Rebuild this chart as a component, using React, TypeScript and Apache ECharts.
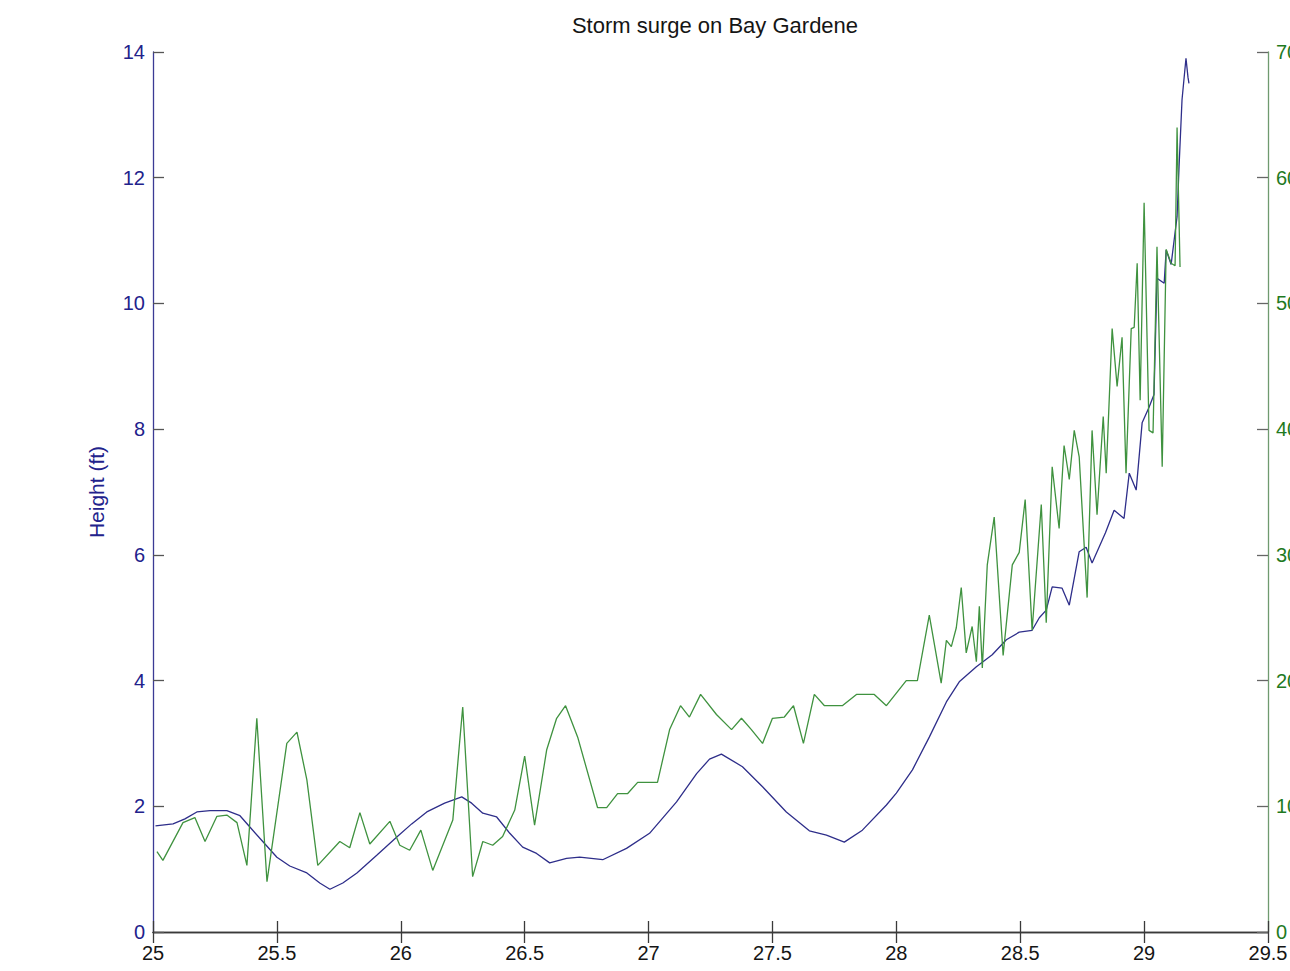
import React, { useEffect, useRef } from "react";
import * as echarts from "echarts";

const titleText = "Storm surge on Bay Gardene";
const leftAxisName = "Height (ft)";
const xTicks = [25, 25.5, 26, 26.5, 27, 27.5, 28, 28.5, 29, 29.5];

// Surge height (ft), left axis
const surgeDays = [
  25.01, 25.081, 25.129, 25.177, 25.23, 25.298, 25.351, 25.391, 25.452, 25.5,
  25.552, 25.621, 25.673, 25.714, 25.766, 25.823, 25.903, 25.984, 26.044, 26.105,
  26.177, 26.246, 26.286, 26.331, 26.387, 26.44, 26.492, 26.548, 26.601, 26.669,
  26.722, 26.815, 26.911, 27.004, 27.113, 27.194, 27.246, 27.294, 27.379, 27.46,
  27.556, 27.649, 27.718, 27.79, 27.863, 27.96, 28.0, 28.065, 28.133, 28.202,
  28.254, 28.323, 28.387, 28.444, 28.496, 28.548, 28.577, 28.605, 28.629, 28.669,
  28.698, 28.738, 28.766, 28.79, 28.844, 28.879, 28.919, 28.94, 28.968, 28.992,
  29.02, 29.04, 29.052, 29.081, 29.089, 29.109, 29.133, 29.141, 29.153, 29.169,
  29.177, 29.181,
];
const surgeFt = [
  1.69, 1.72, 1.8, 1.91, 1.93, 1.93, 1.85, 1.67, 1.4, 1.19,
  1.05, 0.94, 0.78, 0.68, 0.78, 0.94, 1.22, 1.51, 1.72, 1.91,
  2.05, 2.15, 2.05, 1.89, 1.83, 1.57, 1.35, 1.25, 1.1, 1.17,
  1.19, 1.15, 1.33, 1.57, 2.07, 2.52, 2.75, 2.83, 2.63, 2.31,
  1.91, 1.61, 1.54, 1.43, 1.62, 2.02, 2.21, 2.58, 3.1, 3.66,
  3.98, 4.22, 4.41, 4.65, 4.77, 4.8, 5.0, 5.12, 5.49, 5.47,
  5.2, 6.05, 6.12, 5.87, 6.35, 6.71, 6.58, 7.3, 7.03, 8.1,
  8.35, 8.55, 10.4, 10.32, 10.85, 10.62, 11.38, 12.17, 13.24, 13.9,
  13.6, 13.5,
];

// Wind speed, right axis
const windDays = [
  25.016, 25.04, 25.121, 25.169, 25.21, 25.258, 25.298, 25.339, 25.379, 25.419,
  25.46, 25.54, 25.581, 25.621, 25.665, 25.754, 25.794, 25.835, 25.875, 25.956,
  25.996, 26.036, 26.081, 26.129, 26.21, 26.25, 26.29, 26.331, 26.371, 26.411,
  26.46, 26.5, 26.54, 26.589, 26.629, 26.665, 26.714, 26.794, 26.831, 26.875,
  26.915, 26.956, 27.036, 27.085, 27.129, 27.165, 27.21, 27.274, 27.335, 27.375,
  27.415, 27.46, 27.5, 27.548, 27.585, 27.625, 27.669, 27.71, 27.782, 27.839,
  27.911, 27.96, 28.04, 28.085, 28.133, 28.181, 28.202, 28.222, 28.242, 28.262,
  28.282, 28.306, 28.323, 28.335, 28.347, 28.367, 28.395, 28.431, 28.468, 28.496,
  28.52, 28.548, 28.585, 28.605, 28.629, 28.657, 28.677, 28.698, 28.718, 28.738,
  28.77, 28.79, 28.81, 28.835, 28.847, 28.871, 28.891, 28.911, 28.927, 28.948,
  28.96, 28.972, 28.984, 29.0, 29.02, 29.036, 29.052, 29.073, 29.089, 29.109,
  29.125, 29.133, 29.145,
];
const windSpeed = [
  6.4, 5.7, 8.7, 9.1, 7.2, 9.2, 9.3, 8.7, 5.3, 17.0,
  4.0, 15.0, 15.9, 12.1, 5.3, 7.2, 6.7, 9.5, 7.0, 8.8,
  6.9, 6.5, 8.1, 4.9, 8.9, 17.9, 4.4, 7.2, 6.9, 7.6,
  9.7, 14.0, 8.5, 14.5, 17.0, 18.0, 15.5, 9.9, 9.9, 11.0,
  11.0, 11.9, 11.9, 16.1, 18.0, 17.1, 18.9, 17.3, 16.1, 17.0,
  16.1, 15.0, 17.0, 17.1, 18.0, 15.0, 18.9, 18.0, 18.0, 18.9,
  18.9, 18.0, 20.0, 20.0, 25.2, 19.8, 23.2, 22.7, 24.2, 27.4,
  22.2, 24.3, 21.5, 25.9, 21.0, 29.2, 33.0, 22.0, 29.2, 30.2,
  34.4, 24.0, 34.0, 24.6, 37.0, 32.1, 38.7, 36.0, 39.9, 37.8,
  26.6, 39.9, 33.2, 41.0, 36.5, 48.0, 43.4, 47.3, 36.5, 48.0,
  48.1, 53.2, 42.3, 58.0, 39.9, 39.7, 54.5, 37.0, 54.3, 53.2,
  53.0, 64.0, 52.9,
];

const surgeData = surgeDays.map((d, i) => [d, surgeFt[i]]);
const windData = windDays.map((d, i) => [d, windSpeed[i]]);

const FONT = "'Liberation Sans', Arial, Helvetica, sans-serif";
const BLUE = "#22228c";
const GREEN = "#1f7a1f";
const BLUE_LINE = "#2e2e8a";
const GREEN_LINE = "#3f923f";

export default function App() {
  const ref = useRef<HTMLDivElement>(null);
  useEffect(() => {
    if (!ref.current) return;
    const chart = echarts.init(ref.current, undefined, { renderer: "svg" });
    chart.setOption({
      animation: false,
      backgroundColor: "#ffffff",
      title: {
        text: titleText,
        left: 710,
        top: 9,
        textAlign: "center",
        textStyle: { fontFamily: FONT, fontSize: 22, fontWeight: "normal", color: "#151515" },
      },
      grid: { left: 153, right: 1320 - 1268, top: 52, bottom: 971 - 932, containLabel: false },
      xAxis: [
        {
          type: "value",
          min: xTicks[0],
          max: xTicks[xTicks.length - 1],
          interval: 0.5,
          position: "bottom",
          axisLine: { show: true, lineStyle: { color: "#3a3a3a", width: 1.3 } },
          axisTick: { show: true, inside: true, length: 11, lineStyle: { color: "#3a3a3a", width: 1.3 } },
          axisLabel: {
            show: true,
            margin: 11,
            fontFamily: FONT,
            fontSize: 20,
            color: "#151515",
            formatter: (v: number) => String(v),
          },
          splitLine: { show: false },
        },
        {
          type: "value",
          min: xTicks[0],
          max: xTicks[xTicks.length - 1],
          interval: 0.5,
          position: "top",
          axisLine: { show: true, lineStyle: { color: "#3a3a3a", width: 1.3 } },
          axisTick: { show: true, inside: true, length: 11, lineStyle: { color: "#3a3a3a", width: 1.3 } },
          axisLabel: { show: false },
          splitLine: { show: false },
        },
      ],
      yAxis: [
        {
          type: "value",
          min: 0,
          max: 14,
          interval: 2,
          position: "left",
          name: leftAxisName,
          nameLocation: "middle",
          nameRotate: 90,
          nameGap: 46,
          nameTextStyle: { fontFamily: FONT, fontSize: 21, color: BLUE },
          axisLine: { show: true, lineStyle: { color: "#3b3b95", width: 1.3 } },
          axisTick: { show: true, inside: true, length: 11, lineStyle: { color: "#555555", width: 1.3 } },
          axisLabel: { margin: 8, fontFamily: FONT, fontSize: 20, color: BLUE },
          splitLine: { show: false },
        },
        {
          type: "value",
          min: 0,
          max: 70,
          interval: 10,
          position: "right",
          axisLine: { show: true, lineStyle: { color: "#6f9a6f", width: 1.3 } },
          axisTick: { show: true, inside: true, length: 11, lineStyle: { color: "#666666", width: 1.3 } },
          axisLabel: { margin: 8, fontFamily: FONT, fontSize: 20, color: GREEN },
          splitLine: { show: false },
        },
      ],
      series: [
        {
          type: "line",
          name: "Surge",
          xAxisIndex: 0,
          yAxisIndex: 0,
          data: surgeData,
          showSymbol: false,
          lineStyle: { color: BLUE_LINE, width: 1.3 },
          itemStyle: { color: BLUE_LINE },
        },
        {
          type: "line",
          name: "Wind",
          xAxisIndex: 0,
          yAxisIndex: 1,
          data: windData,
          showSymbol: false,
          lineStyle: { color: GREEN_LINE, width: 1.3 },
          itemStyle: { color: GREEN_LINE },
        },
      ],
    });
    return () => chart.dispose();
  }, []);
  return (
    <div
      style={{
        position: "absolute",
        left: 0,
        top: 0,
        width: 1290,
        height: 971,
        overflow: "hidden",
        background: "#ffffff",
      }}
    >
      <div ref={ref} style={{ width: 1320, height: 971 }} />
    </div>
  );
}
